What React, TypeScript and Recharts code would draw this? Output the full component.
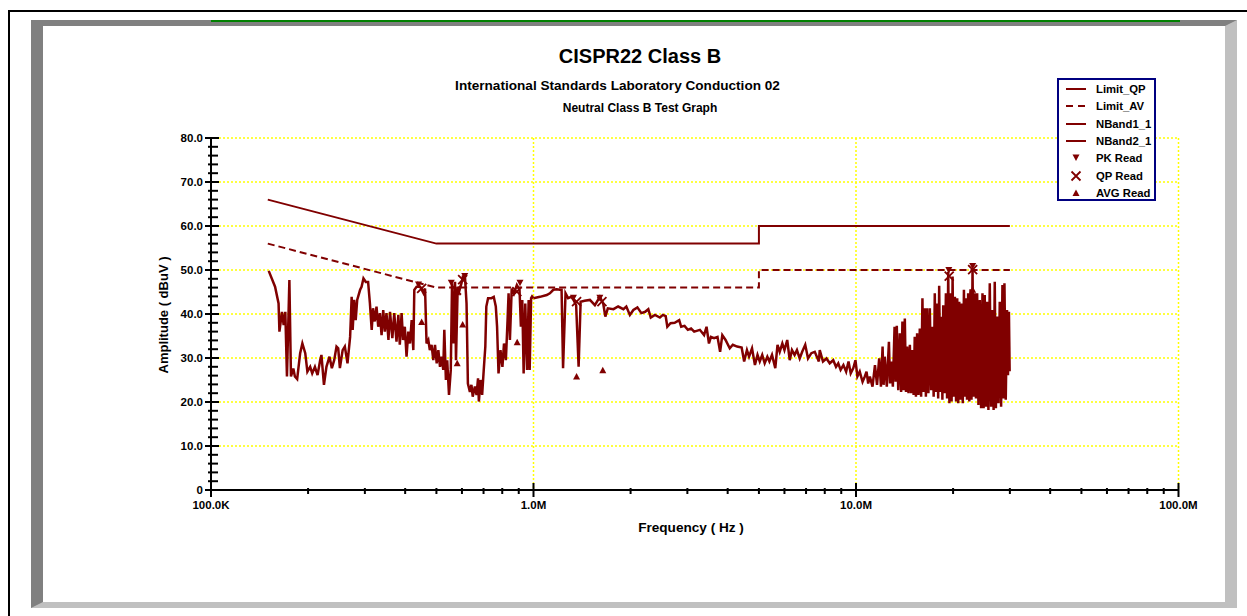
import React from 'react';
import { ComposedChart, Line, Scatter, XAxis, YAxis, CartesianGrid } from 'recharts';

// frequencies in MHz, levels in dBuV
const limitQP: [number, number][] = [[0.15, 66], [0.5, 56], [5, 56], [5, 60], [30, 60]];
const limitAV: [number, number][] = [[0.15, 56], [0.5, 46], [5, 46], [5, 50], [30, 50]];

const nBand1: [number, number][] = [
  [0.151, 49.8], [0.158, 46.2], [0.162, 42.4], [0.163, 36.0], [0.166, 40.5], [0.168, 37.5], [0.170, 40.5],
  [0.172, 25.8], [0.175, 47.7], [0.177, 25.8], [0.180, 27.6], [0.182, 25.8], [0.185, 25.2], [0.189, 31.1],
  [0.192, 33.3], [0.196, 31.1], [0.199, 26.9], [0.203, 28.0], [0.206, 26.5], [0.210, 28.0], [0.214, 26.1],
  [0.218, 29.5], [0.220, 30.7], [0.224, 23.9], [0.228, 28.0], [0.233, 30.3], [0.237, 27.7], [0.241, 29.5],
  [0.245, 32.6], [0.248, 32.2], [0.251, 27.7], [0.256, 31.8], [0.260, 32.6], [0.265, 28.8], [0.270, 34.8],
  [0.273, 43.9], [0.275, 36.4], [0.278, 43.2], [0.281, 38.6], [0.284, 43.2], [0.290, 45.5], [0.293, 46.2],
  [0.297, 48.1], [0.302, 47.3], [0.307, 47.3], [0.311, 42.4], [0.315, 36.4], [0.318, 41.3], [0.322, 38.3],
  [0.326, 41.7], [0.330, 37.1], [0.334, 40.2], [0.338, 35.2], [0.342, 40.9], [0.346, 36.0], [0.350, 40.2],
  [0.355, 34.1], [0.359, 40.5], [0.365, 34.5], [0.370, 40.2], [0.376, 33.7], [0.381, 39.8], [0.385, 33.0],
  [0.390, 40.2], [0.394, 34.1], [0.399, 37.1], [0.404, 30.3], [0.409, 36.0], [0.414, 33.3], [0.419, 38.6],
  [0.424, 31.8], [0.427, 45.5], [0.434, 46.2], [0.445, 46.2], [0.456, 44.7], [0.461, 45.8], [0.466, 33.3],
  [0.472, 34.1], [0.477, 31.8], [0.483, 33.0], [0.489, 29.5], [0.495, 33.0], [0.501, 28.8], [0.507, 31.8],
  [0.513, 28.0], [0.519, 30.3], [0.525, 27.3], [0.529, 36.4], [0.535, 25.0], [0.540, 29.5], [0.547, 21.6],
  [0.554, 27.3], [0.559, 47.0], [0.564, 33.3], [0.571, 47.3], [0.575, 29.5], [0.582, 46.2], [0.588, 45.1],
  [0.598, 47.0], [0.604, 48.5], [0.613, 48.5], [0.620, 42.4], [0.626, 24.2], [0.635, 22.3], [0.642, 23.9],
  [0.648, 21.2], [0.658, 23.5], [0.666, 21.6], [0.673, 25.4], [0.677, 20.1], [0.685, 25.0], [0.693, 21.6],
  [0.701, 27.3], [0.709, 32.6], [0.714, 41.7], [0.723, 43.6], [0.741, 43.6], [0.753, 43.9], [0.764, 41.7],
  [0.771, 37.1], [0.779, 26.5], [0.790, 31.8], [0.801, 28.0], [0.810, 33.3], [0.821, 29.5], [0.831, 38.6],
  [0.837, 44.7], [0.845, 34.1], [0.856, 45.8], [0.870, 44.7], [0.888, 46.6], [0.905, 45.5], [0.914, 37.1],
  [0.923, 43.2], [0.932, 26.5], [0.943, 42.4], [0.955, 27.3], [0.966, 43.2], [0.973, 27.3], [0.983, 43.6],
  [0.990, 44.0], [1.0, 43.6],
];

const nBand2: [number, number][] = [
  [1.0, 43.6], [1.047, 43.9], [1.099, 44.3], [1.124, 44.7], [1.152, 45.5], [1.180, 45.6], [1.207, 45.5],
  [1.222, 45.5], [1.235, 27.7], [1.257, 44.7], [1.280, 43.6], [1.310, 43.9], [1.331, 43.2], [1.356, 42.0],
  [1.38, 28.0], [1.40, 42.8], [1.44, 43.0], [1.496, 43.2], [1.55, 42.0], [1.606, 43.9], [1.645, 42.4],
  [1.67, 39.4], [1.70, 41.3], [1.77, 41.1], [1.83, 41.7], [1.90, 41.1], [1.94, 41.7], [1.99, 39.8],
  [2.04, 40.9], [2.10, 41.5], [2.16, 40.2], [2.22, 40.5], [2.27, 41.1], [2.31, 39.2], [2.38, 39.8],
  [2.465, 39.2], [2.52, 39.8], [2.57, 39.5], [2.60, 37.1], [2.66, 37.9], [2.74, 38.0], [2.83, 38.6],
  [2.87, 37.1], [2.94, 37.3], [3.01, 36.4], [3.08, 36.7], [3.15, 36.0], [3.28, 36.4], [3.38, 35.2],
  [3.44, 37.1], [3.50, 33.3], [3.55, 34.8], [3.63, 34.5], [3.72, 34.8], [3.79, 31.4], [3.85, 35.2],
  [3.94, 34.1], [4.06, 32.2], [4.15, 33.0], [4.28, 32.6], [4.42, 32.4], [4.50, 29.2], [4.59, 31.8],
  [4.66, 30.3], [4.76, 32.2], [4.86, 28.4], [4.95, 30.7], [5.03, 29.2], [5.12, 30.7], [5.21, 28.8],
  [5.31, 30.3], [5.39, 29.2], [5.49, 30.7], [5.62, 27.7], [5.71, 33.0], [5.80, 31.4], [5.91, 33.3],
  [6.00, 31.8], [6.12, 34.1], [6.23, 29.5], [6.33, 31.8], [6.45, 30.7], [6.56, 31.8], [6.69, 29.9],
  [6.81, 31.4], [6.96, 33.0], [7.10, 29.9], [7.27, 31.1], [7.45, 31.4], [7.67, 29.2], [7.72, 31.8],
  [7.90, 29.2], [8.10, 29.9], [8.29, 28.8], [8.50, 29.5], [8.67, 28.0], [8.81, 28.8], [8.96, 27.3],
  [9.14, 28.4], [9.32, 26.9], [9.48, 29.2], [9.63, 26.5], [9.81, 27.7], [9.96, 29.5], [10.1, 25.8],
  [10.27, 26.9], [10.48, 24.6], [10.65, 25.8],
  [10.78, 26.9], [10.91, 24.2], [11.04, 25.8], [11.25, 23.5], [11.45, 28.4], [11.62, 23.9], [11.80, 29.9],
  [11.95, 23.5], [12.09, 32.6], [12.18, 23.9], [12.28, 30.3], [12.46, 23.5], [12.65, 33.7], [12.75, 24.2],
  [12.86, 29.2], [13.01, 23.5], [13.17, 37.1], [13.27, 24.6], [13.38, 37.3], [13.52, 22.7], [13.67, 35.6],
  [13.80, 22.3], [13.93, 38.3], [14.05, 22.7], [14.17, 39.0], [14.29, 22.3], [14.41, 32.6], [14.55, 22.0],
  [14.69, 33.0], [14.83, 22.0], [14.97, 31.8], [15.09, 21.6], [15.21, 34.8], [15.34, 21.2], [15.47, 35.6],
  [15.62, 21.6], [15.77, 36.7], [15.92, 21.2], [16.07, 43.6], [16.20, 22.3], [16.34, 41.3], [16.47, 21.2],
  [16.61, 41.3], [16.77, 22.0], [16.94, 41.3], [17.10, 22.7], [17.27, 37.1], [17.41, 21.2], [17.55, 44.7],
  [17.70, 22.3], [17.85, 42.4], [17.98, 20.8], [18.11, 46.4], [18.26, 22.3], [18.42, 39.4], [18.53, 20.5],
  [18.64, 42.0], [18.82, 22.0], [19.00, 44.7], [19.16, 20.8], [19.32, 49.6], [19.48, 19.7], [19.65, 44.7],
  [19.79, 20.1], [19.93, 48.5], [20.09, 21.2], [20.26, 43.9], [20.43, 20.1], [20.60, 43.6], [20.75, 19.7],
  [20.90, 42.8], [21.08, 20.5], [21.26, 42.4], [21.43, 19.7], [21.61, 45.5], [21.76, 21.2], [21.92, 43.6],
  [22.09, 20.5], [22.27, 44.7], [22.46, 20.1], [22.65, 45.6], [22.81, 20.5], [22.98, 50.2], [23.17, 21.2],
  [23.36, 44.7], [23.55, 20.8], [23.75, 44.7], [23.97, 19.3], [24.20, 43.2], [24.43, 18.6], [24.67, 44.7],
  [24.87, 18.6], [25.07, 44.3], [25.28, 18.9], [25.49, 42.8], [25.74, 18.2], [25.99, 47.0], [26.24, 18.9],
  [26.49, 40.9], [26.71, 18.2], [26.93, 47.3], [27.15, 18.6], [27.38, 39.4], [27.64, 19.7], [27.91, 42.8],
  [28.18, 18.9], [28.45, 46.6], [28.65, 20.8], [28.86, 47.0], [29.13, 20.5], [29.40, 40.9], [29.6, 26.1],
  [29.8, 40.5], [29.95, 27.0],
];

const pkRead: [number, number][] = [
  [0.44, 46.6], [0.556, 47.0], [0.612, 48.5], [0.908, 47.0], [1.33, 43.6], [1.606, 43.6], [19.4, 49.9], [23.0, 50.8],
];
const qpRead: [number, number][] = [
  [0.45, 45.8], [0.577, 45.4], [0.603, 47.8], [0.888, 45.1], [1.36, 42.8], [1.63, 42.8], [19.45, 48.6], [23.0, 50.1],
];
const avgRead: [number, number][] = [
  [0.45, 38.2], [0.58, 28.8], [0.603, 37.6], [0.89, 33.6], [1.36, 25.8], [1.64, 27.2], [19.45, 42.8], [23.0, 45.5],
];

const xTicks = [
  0.1, 0.2, 0.3, 0.4, 0.5, 0.6, 0.7, 0.8, 0.9,
  1, 2, 3, 4, 5, 6, 7, 8, 9,
  10, 20, 30, 40, 50, 60, 70, 80, 90, 100,
];
const xTickLabels: Record<string, string> = { '0.1': '100.0K', '1': '1.0M', '10': '10.0M', '100': '100.0M' };
const yTicks = [
  0, 2, 4, 6, 8, 10, 12, 14, 16, 18, 20, 22, 24, 26, 28, 30, 32, 34, 36, 38, 40,
  42, 44, 46, 48, 50, 52, 54, 56, 58, 60, 62, 64, 66, 68, 70, 72, 74, 76, 78, 80,
];
const gridY = [10, 20, 30, 40, 50, 60, 70, 80];
const gridX = [1, 10, 100];

const legendItems = ['Limit_QP', 'Limit_AV', 'NBand1_1', 'NBand2_1', 'PK Read', 'QP Read', 'AVG Read'];

const RED = '#800000';
const FONT = 'Arial, "Liberation Sans", sans-serif';

const pts = (arr: [number, number][]) => arr.map(([f, v]) => ({ f, v }));

const XTick = (props: any) => {
  const { x, y, payload } = props;
  const label = xTickLabels[String(payload.value)];
  const major = label !== undefined;
  return (
    <g>
      <line x1={x} x2={x} y1={major ? y - 7 : y - 2} y2={major ? y + 7 : y + 4} stroke="#000" strokeWidth={2} />
      {major && (
        <text x={x} y={y + 19} textAnchor="middle" fontFamily={FONT} fontWeight="bold" fontSize={11.5} fill="#000">
          {label}
        </text>
      )}
    </g>
  );
};

const YTick = (props: any) => {
  const { x, y, payload } = props;
  const v = payload.value as number;
  const major = v % 10 === 0;
  return (
    <g>
      <line x1={major ? x - 6 : x - 3} x2={major ? x + 8 : x + 7} y1={y} y2={y} stroke="#000" strokeWidth={2} />
      {major && (
        <text x={x - 8} y={y + 4} textAnchor="end" fontFamily={FONT} fontWeight="bold" fontSize={11.5} fill="#000">
          {v === 0 ? '0' : v.toFixed(1)}
        </text>
      )}
    </g>
  );
};

const DownTri = (props: any) => {
  const { cx, cy } = props;
  return <path d={`M${cx - 3.5},${cy - 3.5}L${cx + 3.5},${cy - 3.5}L${cx},${cy + 3}Z`} fill={RED} />;
};
const UpTri = (props: any) => {
  const { cx, cy } = props;
  return <path d={`M${cx - 3.5},${cy + 3}L${cx + 3.5},${cy + 3}L${cx},${cy - 3.5}Z`} fill={RED} />;
};
const Cross = (props: any) => {
  const { cx, cy } = props;
  return (
    <path d={`M${cx - 4.5},${cy - 4.5}L${cx + 4.5},${cy + 4.5}M${cx - 4.5},${cy + 4.5}L${cx + 4.5},${cy - 4.5}`} stroke={RED} strokeWidth={1.8} fill="none" />
  );
};

function LegendIcon({ i }: { i: number }) {
  if (i < 4) {
    return (
      <line x1={0} x2={20} y1={6} y2={6} stroke={RED} strokeWidth={2} strokeDasharray={i === 1 ? '7 5' : undefined} />
    );
  }
  if (i === 4) return <DownTri cx={10} cy={6} />;
  if (i === 5) return <Cross cx={10} cy={6} />;
  return <UpTri cx={10} cy={6} />;
}

export default function App() {
  return (
    <div style={{ position: 'absolute', left: 0, top: 0, width: 1247, height: 616, overflow: 'hidden', background: '#fff' }}>
      {/* outer black frame */}
      <div style={{ position: 'absolute', left: 8, top: 10, width: 1300, height: 700, border: '2px solid #000' }} />
      {/* bevelled panel */}
      <div
        style={{
          position: 'absolute', left: 31, top: 20, width: 1206, height: 588, boxSizing: 'border-box', background: '#fff',
          borderLeft: '12px solid #808080', borderTop: '6px solid #808080',
          borderRight: '12px solid #c0c0c0', borderBottom: '6px solid #c0c0c0',
        }}
      />
      <div style={{ position: 'absolute', left: 211, top: 20, width: 969, height: 2, background: '#008000' }} />

      <svg width={1247} height={616} style={{ position: 'absolute', left: 0, top: 0 }}>
        <g fontFamily={FONT} fontWeight="bold" fill="#000">
          <text x={640} y={63} textAnchor="middle" fontSize={20}>CISPR22 Class B</text>
          <text x={617.5} y={89.5} textAnchor="middle" fontSize={13.6}>International Standards Laboratory Conduction 02</text>
          <text x={640} y={112} textAnchor="middle" fontSize={12}>Neutral Class B Test Graph</text>
          <text x={691} y={532} textAnchor="middle" fontSize={13.6}>Frequency ( Hz )</text>
          <text x={168} y={315} textAnchor="middle" fontSize={13} transform="rotate(-90 168 315)">Amplitude ( dBuV )</text>
        </g>
      </svg>

      <div style={{ position: 'absolute', left: 0, top: 0 }}>
        <ComposedChart width={1247} height={616} margin={{ top: 138, right: 68.5, bottom: 86, left: 151 }}>
          <CartesianGrid
            horizontalValues={gridY}
            verticalValues={gridX}
            stroke="#ffff00"
            strokeWidth={1.5}
            strokeDasharray="2 2"
          />
          <XAxis
            dataKey="f"
            type="number"
            scale="log"
            domain={[0.1, 100]}
            allowDataOverflow
            ticks={xTicks}
            interval={0}
            tick={<XTick />}
            tickLine={false}
            tickSize={0}
            tickMargin={0}
            height={40}
            axisLine={{ stroke: '#000', strokeWidth: 2 }}
          />
          <YAxis
            type="number"
            domain={[0, 80]}
            allowDataOverflow
            ticks={yTicks}
            interval={0}
            tick={<YTick />}
            tickLine={false}
            tickSize={0}
            tickMargin={0}
            width={60}
            axisLine={{ stroke: '#000', strokeWidth: 2 }}
          />
          <Line data={pts(limitQP)} dataKey="v" name="Limit_QP" stroke={RED} strokeWidth={2} dot={false} isAnimationActive={false} />
          <Line data={pts(limitAV)} dataKey="v" name="Limit_AV" stroke={RED} strokeWidth={2} strokeDasharray="7 4" dot={false} isAnimationActive={false} />
          <Line data={pts(nBand1)} dataKey="v" name="NBand1_1" stroke={RED} strokeWidth={2.5} dot={false} isAnimationActive={false} />
          <Line data={pts(nBand2)} dataKey="v" name="NBand2_1" stroke={RED} strokeWidth={2.5} dot={false} isAnimationActive={false} />
          <Scatter data={pts(pkRead)} dataKey="v" name="PK Read" shape={<DownTri />} isAnimationActive={false} />
          <Scatter data={pts(qpRead)} dataKey="v" name="QP Read" shape={<Cross />} isAnimationActive={false} />
          <Scatter data={pts(avgRead)} dataKey="v" name="AVG Read" shape={<UpTri />} isAnimationActive={false} />
        </ComposedChart>
      </div>

      {/* legend */}
      <div
        style={{
          position: 'absolute', left: 1057, top: 78, width: 99, height: 123, boxSizing: 'border-box',
          border: '2px solid #000080', background: '#fff', overflow: 'hidden', fontFamily: FONT,
        }}
      >
        {legendItems.map((name, i) => (
          <div key={name} style={{ position: 'absolute', left: 0, top: 9 + i * 17.3 - 7, height: 14, width: 95 }}>
            <svg width={22} height={12} style={{ position: 'absolute', left: 7, top: 1 }}>
              <LegendIcon i={i} />
            </svg>
            <span
              style={{ position: 'absolute', left: 37, top: 0, fontSize: 11.3, fontWeight: 'bold', lineHeight: '14px', whiteSpace: 'nowrap' }}
            >
              {name}
            </span>
          </div>
        ))}
      </div>
    </div>
  );
}
